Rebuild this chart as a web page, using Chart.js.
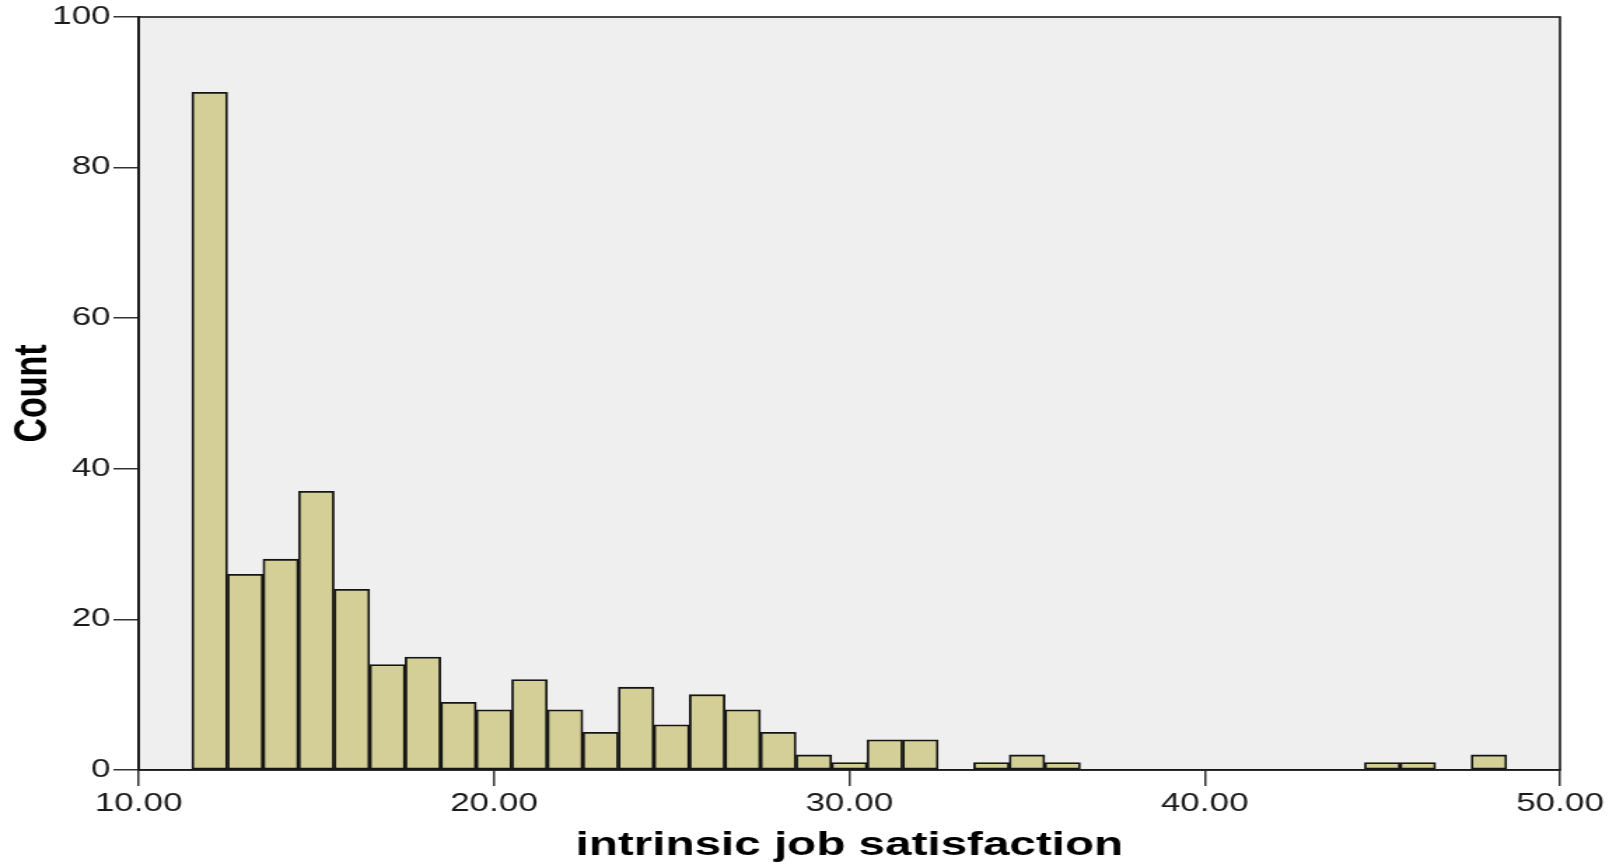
<!DOCTYPE html>
<html>
<head>
<meta charset="utf-8">
<title>intrinsic job satisfaction</title>
<script src="https://cdn.jsdelivr.net/npm/chart.js@4/dist/chart.umd.min.js"></script>
<style>
  html, body { margin: 0; padding: 0; background: #ffffff; overflow: hidden; }
</style>
</head>
<body>
<!-- the canvas is drawn narrower and stretched sideways, like the original export -->
<canvas id="hist" width="1154" height="864" style="display:block;width:1616px;height:864px"></canvas>
<script>
// Centros das classes do histograma (largura 1)
const binCenters = [12, 13, 14, 15, 16, 17, 18, 19, 20, 21, 22, 23, 24, 25, 26, 27, 28, 29, 30,
                    31, 32, 33, 34, 35, 36, 37, 38, 39, 40, 41, 42, 43, 44, 45, 46, 47, 48];
// Contagens
const counts = [90, 26, 28, 37, 24, 14, 15, 9, 8, 12, 8, 5, 11, 6, 10, 8, 5, 2, 1,
                4, 4, 0, 1, 2, 1, 0, 0, 0, 0, 0, 0, 0, 0, 1, 1, 0, 2];
const xTicks = [10, 20, 30, 40, 50];
const yTicks = [0, 20, 40, 60, 80, 100];
const xTitle = 'intrinsic job satisfaction';
const yTitle = 'Count';

const points = binCenters.map((c, i) => ({ x: c, y: counts[i] }));

// Fundo cinza da area do grafico
const plotBackground = {
    id: 'plotBackground',
    beforeDraw(chart) {
        const a = chart.chartArea;
        const ctx = chart.ctx;
        ctx.save();
        ctx.fillStyle = '#efefef';
        ctx.fillRect(a.left, a.top, a.right - a.left, a.bottom - a.top);
        ctx.restore();
    }
};

// Moldura preta em volta da area (topo e direita)
const plotFrame = {
    id: 'plotFrame',
    afterDatasetsDraw(chart) {
        const a = chart.chartArea;
        const ctx = chart.ctx;
        ctx.save();
        ctx.strokeStyle = '#1a1a1a';
        ctx.lineWidth = 1.6;
        ctx.strokeRect(a.left, a.top, a.right - a.left, a.bottom - a.top);
        ctx.restore();
    }
};

new Chart(document.getElementById('hist').getContext('2d'), {
    type: 'bar',
    data: {
        datasets: [{
            data: points,
            backgroundColor: '#d3cf97',
            borderColor: '#151515',
            borderWidth: 1.8,
            borderSkipped: false,
            barPercentage: 1,
            categoryPercentage: 1,
            grouped: false
        }]
    },
    options: {
        responsive: false,
        devicePixelRatio: 1,
        animation: false,
        layout: { padding: { left: 0, right: 40, top: 15, bottom: 0 } },
        plugins: {
            legend: { display: false },
            tooltip: { enabled: false }
        },
        scales: {
            x: {
                type: 'linear',
                min: 10,
                max: 50,
                offset: false,
                afterFit: s => { s.height = 94; },
                afterBuildTicks: s => { s.ticks = xTicks.map(v => ({ value: v })); },
                ticks: {
                    color: '#1a1a1a',
                    padding: 3,
                    maxRotation: 0,
                    font: { family: 'Liberation Sans, Arial, sans-serif', size: 25 },
                    callback: v => Number(v).toFixed(2)
                },
                grid: {
                    offset: false,
                    drawOnChartArea: false,
                    drawTicks: true,
                    tickLength: 16,
                    color: '#333333',
                    lineWidth: 1.5
                },
                border: { display: true, color: '#1a1a1a', width: 1.6 },
                title: {
                    display: true,
                    text: xTitle,
                    color: '#000000',
                    padding: { top: 0, bottom: -2 },
                    font: { family: 'Liberation Sans, Arial, sans-serif', size: 34, weight: 'bold' }
                }
            },
            y: {
                min: 0,
                max: 100,
                afterFit: s => { s.width = 99; },
                afterBuildTicks: s => { s.ticks = yTicks.map(v => ({ value: v })); },
                ticks: {
                    color: '#1a1a1a',
                    padding: 2,
                    font: { family: 'Liberation Sans, Arial, sans-serif', size: 25 }
                },
                grid: {
                    drawOnChartArea: false,
                    drawTicks: true,
                    tickLength: 18,
                    color: '#333333',
                    lineWidth: 1.5
                },
                border: { display: true, color: '#1a1a1a', width: 1.8 },
                title: {
                    display: true,
                    text: yTitle,
                    color: '#000000',
                    padding: { top: 3, bottom: 0 },
                    font: { family: 'Liberation Sans, Arial, sans-serif', size: 34, weight: 'bold' }
                }
            }
        }
    },
    plugins: [plotBackground, plotFrame]
});
</script>
</body>
</html>
